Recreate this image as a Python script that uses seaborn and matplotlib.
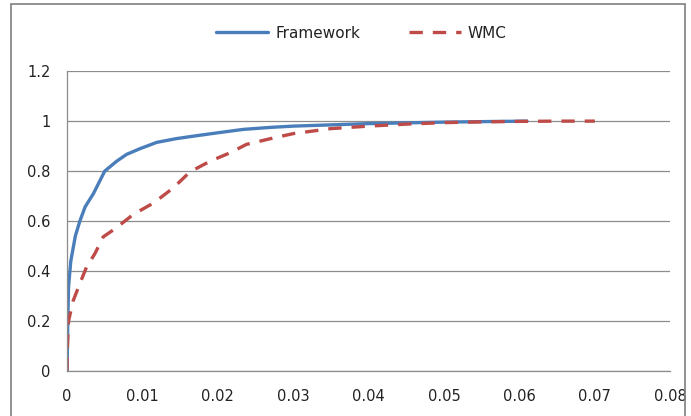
import seaborn as sns
import matplotlib.pyplot as plt
import pandas as pd
from matplotlib.patches import Rectangle

sns.set_style("white")
plt.rcParams['font.family'] = ['DejaVu Sans']

# Framework curve
fw_x = [0, 0.00005, 0.0001, 0.0002, 0.0005, 0.0011, 0.0017, 0.0024, 0.0035, 0.005,
        0.0066, 0.0079, 0.0097, 0.0119, 0.0145, 0.0168, 0.0199, 0.0234, 0.027, 0.03,
        0.035, 0.04, 0.045, 0.05, 0.055, 0.061]
fw_y = [0, 0.09, 0.2, 0.337, 0.44, 0.54, 0.6, 0.657, 0.71, 0.8,
        0.84, 0.867, 0.89, 0.915, 0.93, 0.94, 0.953, 0.967, 0.975, 0.98,
        0.985, 0.99, 0.993, 0.996, 0.998, 1.0]

# WMC curve
wmc_x = [0, 0.00005, 0.0002, 0.0008, 0.0017, 0.0026, 0.0037, 0.0048, 0.0064, 0.0088,
         0.0115, 0.0141, 0.0163, 0.019, 0.0216, 0.0238, 0.027, 0.03, 0.035,
         0.04, 0.045, 0.05, 0.055, 0.06, 0.065, 0.07]
wmc_y = [0, 0.097, 0.2, 0.28, 0.35, 0.417, 0.47, 0.537, 0.57, 0.627,
         0.673, 0.733, 0.797, 0.84, 0.873, 0.907, 0.93, 0.95, 0.97,
         0.98, 0.988, 0.994, 0.997, 0.999, 1.0, 1.0]

x_ticks = [0, 0.01, 0.02, 0.03, 0.04, 0.05, 0.06, 0.07, 0.08]
x_labels = ["0", "0.01", "0.02", "0.03", "0.04", "0.05", "0.06", "0.07", "0.08"]
y_ticks = [0, 0.2, 0.4, 0.6, 0.8, 1.0, 1.2]
y_labels = ["0", "0.2", "0.4", "0.6", "0.8", "1", "1.2"]

fw = pd.DataFrame({"x": fw_x, "y": fw_y})
wmc = pd.DataFrame({"x": wmc_x, "y": wmc_y})

fig = plt.figure(figsize=(6.91, 4.16), dpi=100)
ax = fig.add_axes([0.097, 0.108, 0.873, 0.721])

sns.lineplot(data=fw, x="x", y="y", ax=ax, color="#4a7ebb", linewidth=2.4,
             sort=False, label="Framework")
sns.lineplot(data=wmc, x="x", y="y", ax=ax, color="#be4b48", linewidth=2.4,
             sort=False, label="WMC")
ax.lines[1].set_dashes([4, 3])

ax.set_xlim(0, 0.08)
ax.set_ylim(0, 1.2)
ax.set_xticks(x_ticks)
ax.set_xticklabels(x_labels)
ax.set_yticks(y_ticks)
ax.set_yticklabels(y_labels)
ax.set_xlabel("")
ax.set_ylabel("")

ax.grid(axis="y", color="#8c8c8c", linewidth=0.9)
ax.set_axisbelow(True)
for s in ["top", "right"]:
    ax.spines[s].set_visible(False)
for s in ["left", "bottom"]:
    ax.spines[s].set_color("#8c8c8c")
    ax.spines[s].set_linewidth(0.9)
ax.tick_params(axis="both", which="both", direction="out", length=4,
               color="#8c8c8c", labelsize=10.5, labelcolor="#222222")
ax.tick_params(axis="x", pad=9)
ax.tick_params(axis="y", pad=8)

leg = ax.legend(loc="center", bbox_to_anchor=(0.523, 0.92), bbox_transform=fig.transFigure,
                ncol=2, frameon=False, fontsize=11, handlelength=3.4,
                handletextpad=0.45, columnspacing=3.2)
for t in leg.get_texts():
    t.set_color("#222222")

fig.patches.append(Rectangle((0.016, -0.05), 0.975, 1.04, transform=fig.transFigure,
                             fill=False, edgecolor="#7f7f7f", linewidth=1.2))

fig.savefig("out.png", dpi=100)
